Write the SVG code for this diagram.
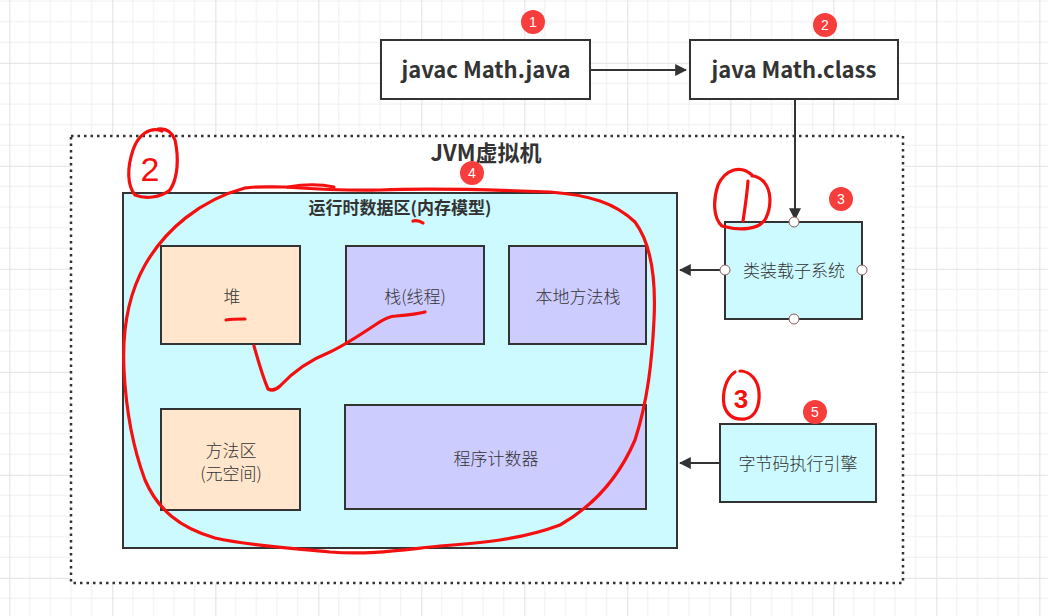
<svg xmlns="http://www.w3.org/2000/svg" width="1048" height="616" viewBox="0 0 1048 616">
<defs>
<pattern id="grid" width="103" height="103" patternUnits="userSpaceOnUse" x="9.3" y="-40.2">
<path d="M20.6 0V103M41.2 0V103M61.8 0V103M82.4 0V103M0 20.6H103M0 41.2H103M0 61.8H103M0 82.4H103" stroke="#efefef" stroke-width="1" fill="none"/>
<path d="M0.5 0V103M0 0.5H103" stroke="#e2e2e2" stroke-width="1.2" fill="none"/>
</pattern>
<marker id="arr" viewBox="0 0 10 10" refX="9" refY="5" markerWidth="6" markerHeight="6" markerUnits="strokeWidth" orient="auto">
<path d="M0 0L10 5L0 10z" fill="#333"/>
</marker>
</defs>
<style>
.box{stroke:#333;stroke-width:2}
.cmd{fill:#fff}
.cyan{fill:#ccfaff}
.peach{fill:#ffe6cc}
.lav{fill:#ccccff}
.t{font-family:"Noto Sans CJK SC","Open Sans",sans-serif;fill:#333;text-anchor:middle}
.n{font-size:17px;font-weight:300}
.b{font-weight:bold}
.badge circle{fill:#f83d3d}
.badge text{font-family:"Liberation Sans",sans-serif;font-size:14px;fill:#fff;text-anchor:middle}
.conn{stroke:#333;stroke-width:2;fill:none}
.port{fill:#fff;stroke:#8a5a5a;stroke-width:1}
.ink{stroke:#f51010;stroke-width:3.2;fill:none;stroke-linecap:round;stroke-linejoin:round}
.inktext{font-family:"Liberation Sans",sans-serif;fill:#f51010;text-anchor:middle}
</style>
<rect width="1048" height="616" fill="#fff"/>
<rect width="1048" height="616" fill="url(#grid)"/>

<g id="jvm">
<rect x="71" y="136" width="832" height="447" fill="#fff" stroke="#333" stroke-width="2.5" stroke-dasharray="2.5 4"/>
<text class="t b" x="486" y="161" font-size="22">JVM虚拟机</text>
</g>

<g id="runtime">
<rect class="box cyan" x="123" y="193" width="554" height="355"/>
<text class="t b" x="400" y="214" font-size="17">运行时数据区(内存模型)</text>
</g>

<g id="heap">
<rect class="box peach" x="161" y="246" width="139" height="98"/>
<text class="t n" x="232" y="303">堆</text>
</g>
<g id="stack">
<rect class="box lav" x="346" y="246" width="138" height="98"/>
<text class="t n" x="415" y="303">栈(线程)</text>
</g>
<g id="native">
<rect class="box lav" x="509" y="246" width="137" height="98"/>
<text class="t n" x="578" y="303">本地方法栈</text>
</g>
<g id="method">
<rect class="box peach" x="161" y="409" width="139" height="101"/>
<text class="t n" x="231" y="457">方法区</text>
<text class="t n" x="231" y="480">(元空间)</text>
</g>
<g id="pc">
<rect class="box lav" x="345" y="405" width="301" height="104"/>
<text class="t n" x="496" y="465">程序计数器</text>
</g>

<g id="javac">
<rect class="box cmd" x="381" y="40" width="209" height="59"/>
<text class="t b" x="486" y="78" font-size="22">javac Math.java</text>
</g>
<g id="java">
<rect class="box cmd" x="690" y="40" width="208" height="59"/>
<text class="t b" x="794" y="78" font-size="22">java Math.class</text>
</g>
<g id="loader">
<rect class="box cyan" x="725" y="222" width="137" height="97"/>
<text class="t n" x="794" y="277">类装载子系统</text>
</g>
<g id="engine">
<rect class="box cyan" x="720" y="424" width="156" height="78"/>
<text class="t n" x="798" y="470">字节码执行引擎</text>
</g>

<g id="connectors">
<path class="conn" d="M590 70H686" marker-end="url(#arr)"/>
<path class="conn" d="M795 99V219" marker-end="url(#arr)"/>
<path class="conn" d="M725 270H680" marker-end="url(#arr)"/>
<path class="conn" d="M720 463H680" marker-end="url(#arr)"/>
</g>

<g id="ports">
<circle class="port" cx="794" cy="222" r="5"/>
<circle class="port" cx="725" cy="270" r="5"/>
<circle class="port" cx="862" cy="270" r="5"/>
<circle class="port" cx="794" cy="319" r="5"/>
</g>

<g id="badges">
<g class="badge"><circle cx="533" cy="22" r="12"/><text x="533" y="27">1</text></g>
<g class="badge"><circle cx="825" cy="25" r="12"/><text x="825" y="30">2</text></g>
<g class="badge"><circle cx="841" cy="199" r="12"/><text x="841" y="204">3</text></g>
<g class="badge"><circle cx="472" cy="173" r="12"/><text x="472" y="178">4</text></g>
<g class="badge"><circle cx="815" cy="412" r="12"/><text x="815" y="417">5</text></g>
</g>

<g id="annotations">
<path class="ink" d="M245 188C200 200 165 230 145 265C128 295 122 330 124 370C126 410 132 445 145 480C158 510 180 528 215 538C250 546 290 548 330 552C370 555 400 550 440 546C480 543 520 540 560 525C595 505 620 475 635 440C648 400 652 360 654 320C656 280 652 245 635 222C615 203 590 195 550 192C500 190 430 188 380 190C340 191 300 188 285 187C270 187 258 186 245 188"/>
<path class="ink" d="M288 187C305 184 320 184 334 187"/>
<path class="ink" d="M413 221C417 220 420 221 423 223"/>
<path class="ink" d="M226 320C232 319 239 319 245 319"/>
<path class="ink" d="M254 346C258 360 262 375 268 389C272 391 276 390 280 386C292 373 310 360 330 352C345 345 360 335 375 325C385 318 392 316 396 316M396 316C408 315 418 314 425 312"/>
<path class="ink" d="M162 131C150 126 138 135 133 150C127 168 127 185 135 195C145 199 160 198 170 190C178 178 179 158 175 140C172 132 167 128 158 129"/>
<text class="inktext" x="150" y="181" font-size="34">2</text>
<path class="ink" d="M752 175C740 164 725 170 718 185C713 200 713 218 722 226C740 231 760 230 766 218C772 205 771 190 764 182C760 178 756 176 752 176"/>
<path class="ink" d="M748 181C747 195 745 208 743 221"/>
<path class="ink" d="M735 372C726 378 722 392 724 405C727 416 735 420 745 419C756 417 760 405 759 392C758 380 750 371 740 371"/>
<text class="inktext" x="741" y="408" font-size="26" font-weight="bold">3</text>
</g>
</svg>
